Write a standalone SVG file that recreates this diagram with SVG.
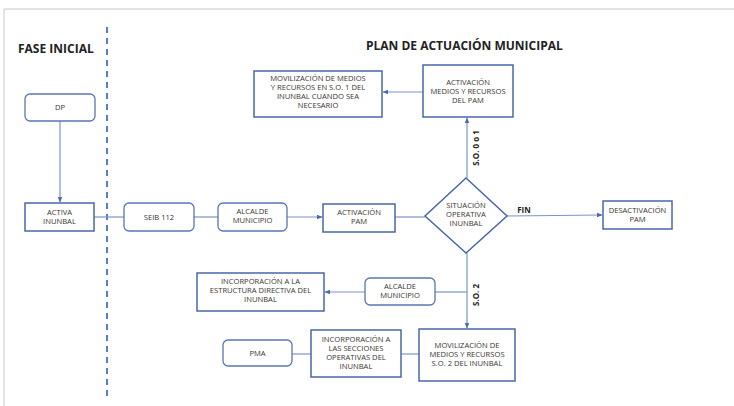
<svg xmlns="http://www.w3.org/2000/svg" width="734" height="406" viewBox="0 0 734 406">
<defs>
<style>
.box{fill:#fff;stroke:#4a67a8;stroke-width:1.5}
.rbox{fill:#fff;stroke:#5a76b4;stroke-width:1.3}
.t{font-family:"Open Sans","Liberation Sans",sans-serif;font-size:7.6px;fill:#3a3630;text-anchor:middle}
.h{font-family:"Open Sans","Liberation Sans",sans-serif;font-size:12px;font-weight:bold;fill:#222}
.lbl{font-family:"Open Sans","Liberation Sans",sans-serif;font-size:8px;font-weight:bold;fill:#222;text-anchor:middle}
.ln{fill:none;stroke:#7a94cc;stroke-width:1.2}
</style>
<marker id="ah" viewBox="0 0 10 10" refX="9" refY="5" markerWidth="6" markerHeight="6" orient="auto" markerUnits="userSpaceOnUse">
<path d="M0,1 L10,5 L0,9 Z" fill="#4a6ab0"/>
</marker>
</defs>
<rect width="734" height="406" fill="#fff"/>
<path d="M4,406 V9 H734" fill="none" stroke="#c8c8c8" stroke-width="1"/>
<line x1="107" y1="27" x2="107" y2="400" stroke="#5a7cc0" stroke-width="2" stroke-dasharray="6,5"/>
<text class="h" x="18" y="53">FASE INICIAL</text>
<text class="h" x="366" y="50">PLAN DE ACTUACIÓN MUNICIPAL</text>

<g id="connectors">
<line class="ln" x1="60" y1="121" x2="60" y2="202" marker-end="url(#ah)"/>
<line class="ln" x1="94" y1="217" x2="124" y2="217"/>
<line class="ln" x1="194" y1="217" x2="218" y2="217"/>
<line class="ln" x1="287" y1="217" x2="322" y2="217" marker-end="url(#ah)"/>
<line class="ln" x1="395" y1="217" x2="425" y2="217"/>
<line class="ln" x1="507" y1="216" x2="602" y2="215" marker-end="url(#ah)"/>
<line class="ln" x1="467" y1="178" x2="467" y2="118" marker-end="url(#ah)"/>
<line class="ln" x1="423" y1="92" x2="383" y2="92" marker-end="url(#ah)"/>
<line class="ln" x1="467" y1="253" x2="467" y2="328" marker-end="url(#ah)"/>
<line class="ln" x1="467" y1="292" x2="435" y2="292"/>
<line class="ln" x1="365" y1="292" x2="325" y2="292" marker-end="url(#ah)"/>
<line class="ln" x1="419" y1="354" x2="401" y2="354"/>
<line class="ln" x1="311" y1="354" x2="292" y2="354"/>
<text class="lbl" x="524" y="213">FIN</text>
<text class="lbl" transform="translate(479,148) rotate(-90)">S.O. 0 o 1</text>
<text class="lbl" transform="translate(479,295) rotate(-90)">S.O. 2</text>
</g>

<g id="dp">
<rect class="rbox" x="25" y="94" width="70" height="27" rx="5"/>
<text class="t" x="60" y="110">DP</text>
</g>
<g id="activa-inunbal">
<rect class="box" x="25" y="203" width="69" height="28"/>
<text class="t" x="59.5" y="215">ACTIVA</text>
<text class="t" x="59.5" y="224">INUNBAL</text>
</g>
<g id="seib">
<rect class="rbox" x="124" y="203" width="70" height="28" rx="5"/>
<text class="t" x="159" y="220">SEIB 112</text>
</g>
<g id="alcalde1">
<rect class="rbox" x="218" y="203" width="69" height="28" rx="5"/>
<text class="t" x="252.5" y="214">ALCALDE</text>
<text class="t" x="252.5" y="223">MUNICIPIO</text>
</g>
<g id="activacion-pam">
<rect class="box" x="323" y="204" width="72" height="28"/>
<text class="t" x="359" y="215">ACTIVACIÓN</text>
<text class="t" x="359" y="224">PAM</text>
</g>
<g id="situacion">
<polygon class="box" points="466,178 507,216 466,253 425,216"/>
<text class="t" x="466" y="208">SITUACIÓN</text>
<text class="t" x="466" y="217">OPERATIVA</text>
<text class="t" x="466" y="226">INUNBAL</text>
</g>
<g id="desactivacion">
<rect class="box" x="603" y="201" width="69" height="28"/>
<text class="t" x="637.5" y="213">DESACTIVACIÓN</text>
<text class="t" x="637.5" y="222">PAM</text>
</g>
<g id="activacion-medios">
<rect class="box" x="423" y="65" width="90" height="52"/>
<text class="t" x="468" y="85">ACTIVACIÓN</text>
<text class="t" x="468" y="94">MEDIOS Y RECURSOS</text>
<text class="t" x="468" y="103">DEL PAM</text>
</g>
<g id="movilizacion-so1">
<rect class="box" x="254" y="71" width="128" height="46"/>
<text class="t" x="318" y="81">MOVILIZACIÓN DE MEDIOS</text>
<text class="t" x="318" y="90">Y RECURSOS EN S.O. 1 DEL</text>
<text class="t" x="318" y="99">INUNBAL CUANDO SEA</text>
<text class="t" x="318" y="108">NECESARIO</text>
</g>
<g id="alcalde2">
<rect class="rbox" x="365" y="278" width="70" height="27" rx="5"/>
<text class="t" x="400" y="289">ALCALDE</text>
<text class="t" x="400" y="298">MUNICIPIO</text>
</g>
<g id="incorporacion-estructura">
<rect class="box" x="197" y="273" width="127" height="38"/>
<text class="t" x="260.5" y="284">INCORPORACIÓN A LA</text>
<text class="t" x="260.5" y="293">ESTRUCTURA DIRECTIVA DEL</text>
<text class="t" x="260.5" y="302">INUNBAL</text>
</g>
<g id="movilizacion-so2">
<rect class="box" x="419" y="329" width="96" height="52"/>
<text class="t" x="467" y="348">MOVILIZACIÓN DE</text>
<text class="t" x="467" y="357">MEDIOS Y RECURSOS</text>
<text class="t" x="467" y="366">S.O. 2 DEL INUNBAL</text>
</g>
<g id="incorporacion-secciones">
<rect class="box" x="311" y="330" width="90" height="47"/>
<text class="t" x="356" y="342">INCORPORACIÓN A</text>
<text class="t" x="356" y="351">LAS SECCIONES</text>
<text class="t" x="356" y="360">OPERATIVAS DEL</text>
<text class="t" x="356" y="369">INUNBAL</text>
</g>
<g id="pma">
<rect class="rbox" x="223" y="340" width="69" height="26" rx="5"/>
<text class="t" x="257.5" y="356">PMA</text>
</g>
</svg>
